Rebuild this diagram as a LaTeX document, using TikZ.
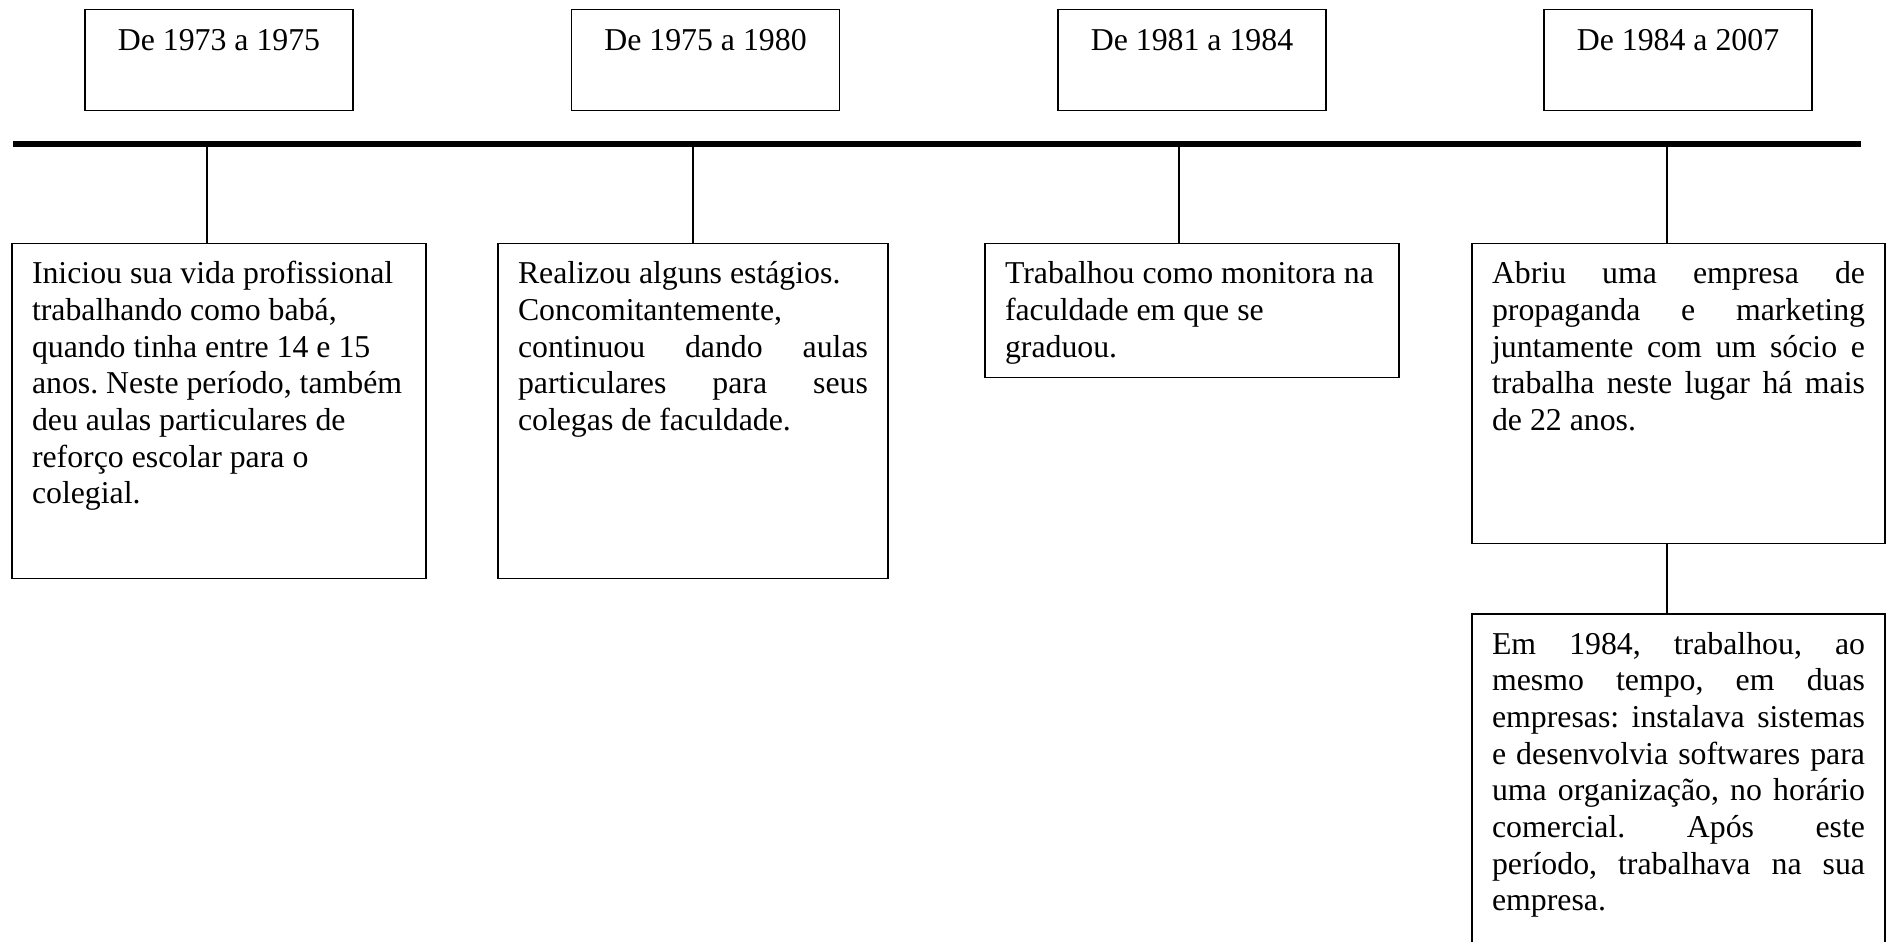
\documentclass[tikz,border=0pt]{standalone}
\usepackage{fontspec}
\setmainfont{Liberation Serif}
\usepackage{tikz}
\usetikzlibrary{positioning}

\begin{document}
\begin{tikzpicture}[
  period/.style={
    rectangle,
    draw=black,
    line width=0.4pt,
    anchor=north,
    minimum width=2.68cm,
    inner ysep=0.152cm,
    text height=0.258cm,
    text depth=0.448cm,
    align=center,
    font=\fontsize{9.05pt}{10.44pt}\selectfont
  },
  event/.style={
    rectangle,
    draw=black,
    line width=0.4pt,
    anchor=north,
    inner xsep=0.2cm,
    inner ysep=0.142cm,
    text height=0.258cm,
    align=justify,
    font=\fontsize{9.05pt}{10.44pt}\selectfont\frenchspacing
  },
  link/.style={
    draw=black,
    line width=0.4pt
  }
]
\useasboundingbox (0,0) rectangle (18.88,-9.41);
\clip (0,0) rectangle (18.88,-9.41);

% --- PERIODS (above the line) ---
\node[period] (period1) at (2.19,-0.09) {De 1973 a 1975};
\node[period] (period2) at (7.055,-0.09) {De 1975 a 1980};
\node[period] (period3) at (11.92,-0.09) {De 1981 a 1984};
\node[period] (period4) at (16.78,-0.09) {De 1984 a 2007};

% --- TIME LINE ---
\coordinate (line_start) at (0.13,-1.44);
\coordinate (line_end) at (18.61,-1.44);
\coordinate (mark1) at (2.07,-1.44);
\coordinate (mark2) at (6.93,-1.44);
\coordinate (mark3) at (11.79,-1.44);
\coordinate (mark4) at (16.67,-1.44);
\draw[line width=0.06cm] (line_start) -- (line_end);

% --- EVENTS (below the line) ---
\node[event, text width=3.74cm, text depth=2.808cm] (event1) at (2.19,-2.43) {
    Iniciou sua vida profissional\\
    trabalhando como babá,\\
    quando tinha entre 14 e 15\\
    anos. Neste período, também\\
    deu aulas particulares de\\
    reforço escolar para o\\
    colegial.
};

\node[event, text width=3.50cm, text depth=2.808cm] (event2) at (6.93,-2.43) {
    Realizou alguns estágios.\\
    Concomitantemente,\\
    continuou dando aulas\linebreak
    particulares para seus\linebreak
    colegas de faculdade.
};

\node[event, text width=3.74cm, text depth=0.798cm] (event3) at (11.92,-2.43) {
    Trabalhou como monitora na\\
    faculdade em que se\\
    graduou.
};

\node[event, text width=3.73cm, text depth=2.458cm] (event4) at (16.785,-2.43) {
    Abriu uma empresa de\linebreak
    propaganda e marketing\linebreak
    juntamente com um sócio e\linebreak
    trabalha neste lugar há mais\linebreak
    de 22 anos.
};

\node[event, text width=3.73cm, text depth=3.2cm, below=0.69cm of event4] (event5) {
    Em 1984, trabalhou, ao\linebreak
    mesmo tempo, em duas\linebreak
    empresas: instalava sistemas\linebreak
    e desenvolvia softwares para\linebreak
    uma organização, no horário\linebreak
    comercial. Após este\linebreak
    período, trabalhava na sua\linebreak
    empresa.
};

% --- CONNECTORS ---
\draw[link] (mark1) -- (mark1 |- event1.north);
\draw[link] (mark2) -- (mark2 |- event2.north);
\draw[link] (mark3) -- (mark3 |- event3.north);
\draw[link] (mark4) -- (mark4 |- event4.north);
\draw[link] (mark4 |- event4.south) -- (mark4 |- event5.north);

\end{tikzpicture}
\end{document}
